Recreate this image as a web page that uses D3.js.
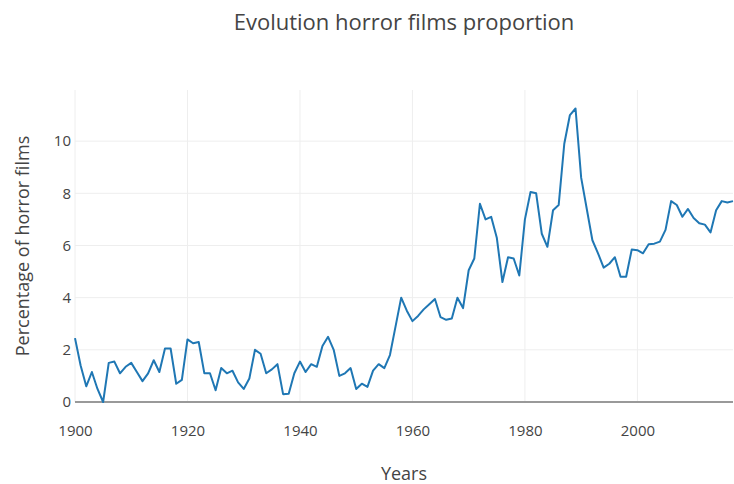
<!DOCTYPE html>
<html>
<head>
<meta charset="utf-8">
<script src="https://cdn.jsdelivr.net/npm/d3@7"></script>
<style>
  body { margin: 0; background: #fff; }
  svg { font-family: "Open Sans", sans-serif; }
</style>
</head>
<body>
<div id="chart"></div>
<script>
const years = d3.range(1900, 2018)
const horrorPct = [
  2.45, 1.4, 0.6, 1.15, 0.5, 0.0, 1.5, 1.55, 1.1, 1.35,
  1.5, 1.15, 0.8, 1.1, 1.6, 1.15, 2.05, 2.05, 0.7, 0.85,
  2.4, 2.25, 2.3, 1.1, 1.1, 0.45, 1.3, 1.1, 1.2, 0.75,
  0.5, 0.9, 2.0, 1.85, 1.1, 1.25, 1.45, 0.3, 0.32, 1.1,
  1.55, 1.15, 1.45, 1.35, 2.15, 2.5, 2.0, 1.0, 1.1, 1.3,
  0.5, 0.7, 0.58, 1.2, 1.45, 1.3, 1.8, 2.9, 4.0, 3.5,
  3.1, 3.3, 3.55, 3.75, 3.95, 3.25, 3.15, 3.2, 4.0, 3.6,
  5.05, 5.5, 7.6, 7.0, 7.1, 6.3, 4.6, 5.55, 5.5, 4.85,
  7.0, 8.05, 8.0, 6.45, 5.95, 7.35, 7.55, 9.9, 11.0, 11.25,
  8.6, 7.4, 6.2, 5.7, 5.15, 5.3, 5.55, 4.8, 4.8, 5.85,
  5.82, 5.7, 6.05, 6.07, 6.15, 6.6, 7.7, 7.55, 7.1, 7.4,
  7.05, 6.85, 6.8, 6.5, 7.35, 7.7, 7.65, 7.7
]
const xTicks = [1900, 1920, 1940, 1960, 1980, 2000]
const yTicks = [0, 2, 4, 6, 8, 10]

const W = 734, H = 484
const m = {top: 90, right: 1, bottom: 82, left: 75}

const svg = d3.select('#chart').append('svg')
  .attr('width', W).attr('height', H)

const x = d3.scaleLinear().domain([1900, 2017]).range([m.left, W - m.right])
const y = d3.scaleLinear().domain([0, 11.96]).range([H - m.bottom, m.top])

// grid
svg.append('g').selectAll('line').data(xTicks).enter().append('line')
  .attr('x1', d => x(d)).attr('x2', d => x(d))
  .attr('y1', m.top).attr('y2', H - m.bottom)
  .attr('stroke', '#eee').attr('stroke-width', 1)
svg.append('g').selectAll('line').data(yTicks.filter(d => d > 0)).enter().append('line')
  .attr('x1', m.left).attr('x2', W - m.right)
  .attr('y1', d => y(d)).attr('y2', d => y(d))
  .attr('stroke', '#eee').attr('stroke-width', 1)

// axes
const xAxis = svg.append('g')
  .attr('transform', `translate(0,${H - m.bottom})`)
  .call(d3.axisBottom(x).tickValues(xTicks).tickFormat(d3.format('d')).tickSize(0).tickPadding(23))
xAxis.select('.domain').remove()
xAxis.selectAll('text').attr('fill', '#444').attr('font-size', 15).attr('font-family', '"Open Sans", sans-serif')

const yAxis = svg.append('g')
  .attr('transform', `translate(${m.left},0)`)
  .call(d3.axisLeft(y).tickValues(yTicks).tickSize(0).tickPadding(4))
yAxis.select('.domain').remove()
yAxis.selectAll('text').attr('fill', '#444').attr('font-size', 15).attr('font-family', '"Open Sans", sans-serif')

// zero line
svg.append('line')
  .attr('x1', m.left).attr('x2', W - m.right)
  .attr('y1', y(0)).attr('y2', y(0))
  .attr('stroke', '#999').attr('stroke-width', 2)

// series
const line = d3.line().x((d, i) => x(years[i])).y(d => y(d))
svg.append('path')
  .datum(horrorPct)
  .attr('d', line)
  .attr('fill', 'none')
  .attr('stroke', '#1f77b4')
  .attr('stroke-width', 2)
  .attr('stroke-linejoin', 'round')

// titles
svg.append('text')
  .attr('x', (m.left + W - m.right) / 2).attr('y', 30)
  .attr('text-anchor', 'middle').attr('fill', '#444').attr('font-size', 22)
  .text('Evolution horror films proportion')
svg.append('text')
  .attr('x', (m.left + W - m.right) / 2).attr('y', 480)
  .attr('text-anchor', 'middle').attr('fill', '#444').attr('font-size', 18)
  .text('Years')
svg.append('text')
  .attr('transform', `translate(29,${(m.top + H - m.bottom) / 2}) rotate(-90)`)
  .attr('text-anchor', 'middle').attr('fill', '#444').attr('font-size', 18)
  .text('Percentage of horror films')
</script>
</body>
</html>
